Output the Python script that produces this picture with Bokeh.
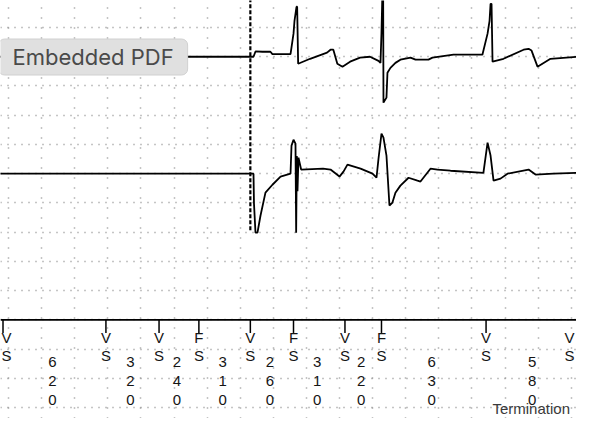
import numpy as np
from bokeh.plotting import figure
from bokeh.models import Range1d, FixedTicker, Span, Label, ColumnDataSource
from bokeh.core.properties import value
from bokeh.embed import file_html
from bokeh.resources import INLINE

# ---- data -------------------------------------------------------------
# intervals between consecutive marker events (ms)
intervals_ms = [620, 320, 240, 310, 260, 310, 220, 630, 580]
# marker codes of events (first char on top row, second below)
event_codes = ["VS", "VS", "VS", "FS", "VS", "FS", "VS", "FS", "VS", "VS"]
marker_ms = 1490            # dashed vertical marker
termination_label = "Termination"
overlay_label = "Embedded PDF"

# channel 1 (upper trace): time (ms) and amplitude (grid units)
trace1_t = [-20, 1509, 1521, 1563, 1611, 1623, 1732, 1738, 1750, 1756, 1768, 1772,
            1778, 1850, 1952, 1973, 1990, 2014, 2045, 2091, 2151, 2211, 2262, 2274,
            2280, 2286, 2290, 2292, 2310, 2316, 2334, 2364, 2394, 2455, 2485, 2563,
            2587, 2714, 2888, 2919, 2931, 2937, 2943, 2949, 3015, 3136, 3166, 3184,
            3220, 3298, 3461, 3497, 3521, 3527, 3560]
trace1_v = [0, 0, 0.18, 0.17, 0.17, 0.09, 0.09, 0.32, 0.79, 1.23, 1.71, 1.71,
            -0.24, -0.07, 0.14, 0.24, 0.24, -0.24, -0.34, -0.17, -0.03, 0, -0.14, -0.21,
            0.82, 2.3, 2.3, -1.57, -1.40, -0.55, -0.38, -0.21, -0.10, -0.03, -0.10, -0.10,
            -0.03, 0.07, 0.07, 0.79, 1.23, 1.81, 1.81, -0.17, -0.07, 0.24, 0.27, 0.21,
            -0.34, -0.07, 0, 0.62, 1.30, -0.21, -0.21]

# channel 2 (lower trace)
trace2_t = [-20, 1509, 1512, 1521, 1533, 1551, 1581, 1623, 1672, 1732, 1738, 1750,
            1762, 1766, 1770, 1774, 1780, 1796, 1928, 1973, 2027, 2051, 2075, 2154,
            2226, 2250, 2262, 2280, 2292, 2310, 2328, 2346, 2364, 2394, 2443, 2497,
            2515, 2575, 2618, 2696, 2894, 2919, 2937, 2955, 2997, 3039, 3166, 3208,
            3316, 3479, 3503, 3521, 3539, 3560]
trace2_v = [0, 0, -1.03, -2.02, -2.02, -1.44, -0.65, -0.38, -0.10, 0, 0.96, 1.16,
            1.03, -2.02, 0.6, -0.6, 0.55, 0.14, 0.17, 0.14, -0.10, 0.07, 0.31, 0.17,
            0, -0.14, 0.51, 1.37, 1.23, 0.62, -1.09, -0.99, -0.65, -0.41, -0.14, -0.24,
            -0.27, 0.17, 0.14, 0.10, 0.03, 1.06, 0.62, -0.24, -0.17, 0, 0.14, -0.03,
            0, 0.03, 1.13, 0.55, -0.31, -0.31]

# ---- layout constants -------------------------------------------------
CH1_BASE, CH2_BASE = -1, -5
AXIS_Y = -10
ROW_L1, ROW_L2 = -10.6, -11.22
DIGIT_ROWS = [-11.46, -12.08, -12.73]
TERM_Y = -13.04
FONT = "Liberation Sans"
INK = "#151515"
X0, X1 = -15.1, 3454.8
MS_PER_PX = (X1 - X0) / 576

event_t = np.concatenate([[0], np.cumsum(intervals_ms)])

p = figure(width=576, height=418, x_range=Range1d(X0, X1),
           y_range=Range1d(-13.377, 0.924), output_backend="svg",
           toolbar_location=None, min_border=0)
p.outline_line_color = None
p.xaxis.visible = False
p.yaxis.visible = False
p.background_fill_color = "white"

p.xgrid.ticker = FixedTicker(ticks=list(33.1 + 199.4 * np.arange(18)))
p.ygrid.ticker = FixedTicker(ticks=list(range(-13, 1)))
p.xgrid.grid_line_color = "#8a8a8a"
p.xgrid.grid_line_dash = "1 9"
p.xgrid.grid_line_width = 1.5
p.ygrid.grid_line_color = "#8a8a8a"
p.ygrid.grid_line_dash = "1 6"
p.ygrid.grid_line_width = 1.5

# dashed marker
p.segment(x0=[marker_ms], y0=[1.0], x1=[marker_ms], y1=[-7],
          line_color="black", line_width=2.2, line_dash="4 2")

# traces
p.line(trace1_t, np.array(trace1_v) + CH1_BASE, line_color="black", line_width=1.8)
p.line(trace2_t, np.array(trace2_v) + CH2_BASE, line_color="black", line_width=1.8)

# marker axis
p.add_layout(Span(location=AXIS_Y, dimension="width", line_color="black", line_width=1.7))
p.segment(x0=event_t, y0=[AXIS_Y] * len(event_t), x1=event_t,
          y1=[AXIS_Y - 0.45] * len(event_t), line_color="black", line_width=1.5)

# event letters (kept inside the frame at both edges)
tx, ty, tt = [], [], []
for t, code in zip(event_t, event_codes):
    tl = min(max(t, X0 + 6 * MS_PER_PX), X1 - 7 * MS_PER_PX)
    tx += [tl, tl]
    ty += [ROW_L1, ROW_L2]
    tt += [code[0], code[1]]
# interval digits
for i, iv in enumerate(intervals_ms):
    mid = (event_t[i] + event_t[i + 1]) / 2 - 12
    for r, ch in enumerate(str(iv)):
        tx.append(mid)
        ty.append(DIGIT_ROWS[r])
        tt.append(ch)
src = ColumnDataSource(dict(x=tx, y=ty, text=tt))
p.text(x="x", y="y", text="text", source=src, text_font=value(FONT),
       text_font_size="15px", text_color=INK, text_align="center",
       text_baseline="middle")

term_x = (event_t[-2] + event_t[-1]) / 2 - 18
p.text(x=[term_x], y=[TERM_Y], text=[termination_label], text_font=value(FONT),
       text_font_size="15px", text_color="#3a3a3a", text_align="center",
       text_baseline="middle")

# overlay badge
p.add_layout(Label(x=X0 - 2 * MS_PER_PX, y=CH1_BASE - 0.01, text=overlay_label,
                   text_font="Inter", text_font_size="22px", text_color="#4a4a4a",
                   text_align="left", text_baseline="middle",
                   background_fill_color="#e0e0e0", border_line_color="#d0d0d0",
                   border_line_width=1, border_radius=6, padding=(14, 5)))

open("out.html", "w").write(file_html(p, INLINE))
